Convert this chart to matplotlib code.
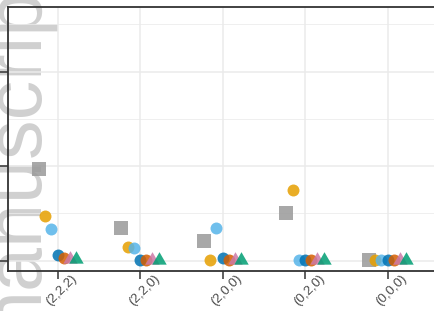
import numpy as np
import matplotlib
matplotlib.use('Agg')
import matplotlib.pyplot as plt
from matplotlib.ticker import MultipleLocator

# categories along x
categories = ['(2,2,2)', '(2,2,0)', '(2,0,0)', '(0,2,0)', '(0,0,0)']

# values per series (y in tick units)
grey_sq = [0.968, 0.347, 0.206, 0.500, 0.002]
orange = [0.474, 0.146, 0.005, 0.746, 0.005]
skyblue = [0.333, 0.129, 0.340, 0.005, 0.005]
blue = [0.058, 0.005, 0.030, 0.005, 0.005]
vermillion = [0.023, 0.005, 0.005, 0.005, 0.005]
pink = [0.014, 0.010, 0.010, 0.010, 0.010]
green = [0.016, 0.010, 0.010, 0.010, 0.010]

series = [grey_sq, orange, skyblue, blue, vermillion, pink, green]
colors = ['#999999', '#E69F00', '#56B4E9', '#0072B2', '#D55E00', '#CC79A7', '#009E73']

# equilateral triangle centred on its centroid (like R pch 17)
TRI = [(0, 1), (-0.866, -0.5), (0.866, -0.5)]
markers = ['s', 'o', 'o', 'o', 'o', TRI, TRI]
sizes = [9.4, 8.6, 8.6, 8.6, 8.6, 12.0, 12.0]

DODGE = 0.53  # total dodge width in category units

fig = plt.figure(figsize=(4.35, 3.11), dpi=100)
W, H = 435, 311
# panel spans past the right edge, as in the cropped original
ax = fig.add_axes([8 / W, 1 - 271 / H, (437 - 8) / W, (271 - 7) / H])
ax.set_facecolor('none')

x = np.arange(1, len(categories) + 1)
n = len(series)
for i, (vals, c, m, ms) in enumerate(zip(series, colors, markers, sizes)):
    off = (i - (n - 1) / 2) * DODGE / n
    ax.plot(x + off, vals, linestyle='none', marker=m, markersize=ms,
            color=c, markeredgewidth=0, alpha=0.85, zorder=3 + i)

ax.set_xlim(0.4, 5.6)
ax.set_ylim(-0.111, 2.683)
ax.set_xticks(x)
ax.set_xticklabels(categories, rotation=45, rotation_mode='anchor',
                   ha='center', va='top', fontsize=9.5, color='#4D4D4D',
                   family='Liberation Sans')
ax.yaxis.set_major_locator(MultipleLocator(1))
ax.yaxis.set_minor_locator(MultipleLocator(0.5))
ax.set_yticklabels([])

ax.grid(which='major', color='#EBEBEB', linewidth=1.1, zorder=0)
ax.grid(which='minor', axis='y', color='#EBEBEB', linewidth=0.55, zorder=0)
ax.set_axisbelow(True)
ax.tick_params(axis='both', which='major', length=5.5, width=1.1, color='#333333')
ax.tick_params(axis='x', pad=5.5)
ax.tick_params(axis='y', which='minor', length=0)
for s in ax.spines.values():
    s.set_color('#333333')
    s.set_linewidth(1.3)

# faint watermark text on the left edge, behind the panel
fig.text(37 / W, 1 - 157 / H, 'manuscript', rotation=90, rotation_mode='anchor',
         ha='center', va='baseline', fontsize=57, color='#c4c4c4', alpha=0.8,
         family='Liberation Sans', zorder=-1)

fig.savefig('out.png', dpi=100)
